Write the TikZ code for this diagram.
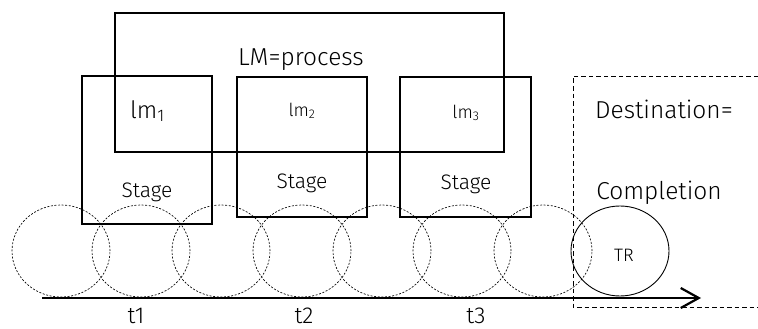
\documentclass[tikz,border=0pt]{standalone}
\usepackage{fontspec}
\setmainfont{Fira Sans Light}
\usetikzlibrary{arrows.meta,shapes.geometric}
\tikzset{
  box/.style={draw, line width=1.1pt, inner sep=0pt},
  txt/.style={inner sep=0pt, anchor=base},
  big/.style={txt, font=\fontsize{24.5}{28}\selectfont},
  mid/.style={txt, font=\fontsize{21}{25}\selectfont},
  small/.style={txt, font=\fontsize{18}{22}\selectfont},
  tick/.style={txt, font=\fontsize{23}{26}\selectfont},
  slot/.style={draw, ellipse, inner sep=0pt, minimum width=98pt, minimum height=92pt,
    line width=0.65pt, dash pattern=on 2pt off 1.6pt},
  finish/.style={draw, ellipse, inner sep=0pt, minimum width=98pt, minimum height=90pt,
    line width=0.9pt},
  border/.style={line width=0.9pt, dash pattern=on 4.5pt off 3pt},
}
\begin{document}
\begin{tikzpicture}[x=1pt,y=-1pt]
\useasboundingbox (0,0) rectangle (758,329);

% time slots along the axis
\foreach \cx [count=\i] in {61,141,221,302,382,462,543}
  \node[slot] (c\i) at (\cx,251) {};

% process box and its stages
\node[box, minimum width=389pt, minimum height=139pt] (lm) at (309.5,82.5) {};
\node[box, minimum width=130pt, minimum height=148pt] (s1) at (147,150) {};
\node[box, minimum width=130pt, minimum height=140pt] (s2) at (302,147) {};
\node[box, minimum width=131pt, minimum height=140pt] (s3) at (465.5,147) {};

\node[big] (lmt) at (301,66) {LM=process};
\node[txt, font=\fontsize{24}{28}\selectfont] (l1) at (147.5,118) {lm\textsubscript{1}};
\node[small] (l2) at (302,116) {lm\textsubscript{2}};
\node[small] (l3) at (466,118) {lm\textsubscript{3}};
\node[mid] (st1) at (147,197) {Stage};
\node[mid] (st2) at (302,188) {Stage};
\node[mid] (st3) at (466,189) {Stage};

% destination region
\coordinate (dtr) at (758,76);
\coordinate (dtl) at (573,76);
\coordinate (dbl) at (573,307);
\coordinate (dbr) at (758,307);
\draw[border] (dtr) -- (dtl) -- (dbl) -- (dbr);
\node[big] (dest) at (664,118) {Destination=};
\node[big] (comp) at (659,199) {Completion};
\node[finish] (tr) at (620,251) {};
\node[small] (trt) at (624,261) {TR};

% time axis
\coordinate (ts) at (42,298);
\coordinate (te) at (701,298);
\draw[line width=2.4pt, -{Straight Barb[length=18pt,width=20pt,line width=2.2pt]}] (ts) -- (te);
\node[tick] (t1) at (136,323.5) {t1};
\node[tick] (t2) at (304,323.5) {t2};
\node[tick] (t3) at (476,323.5) {t3};
\end{tikzpicture}
\end{document}
